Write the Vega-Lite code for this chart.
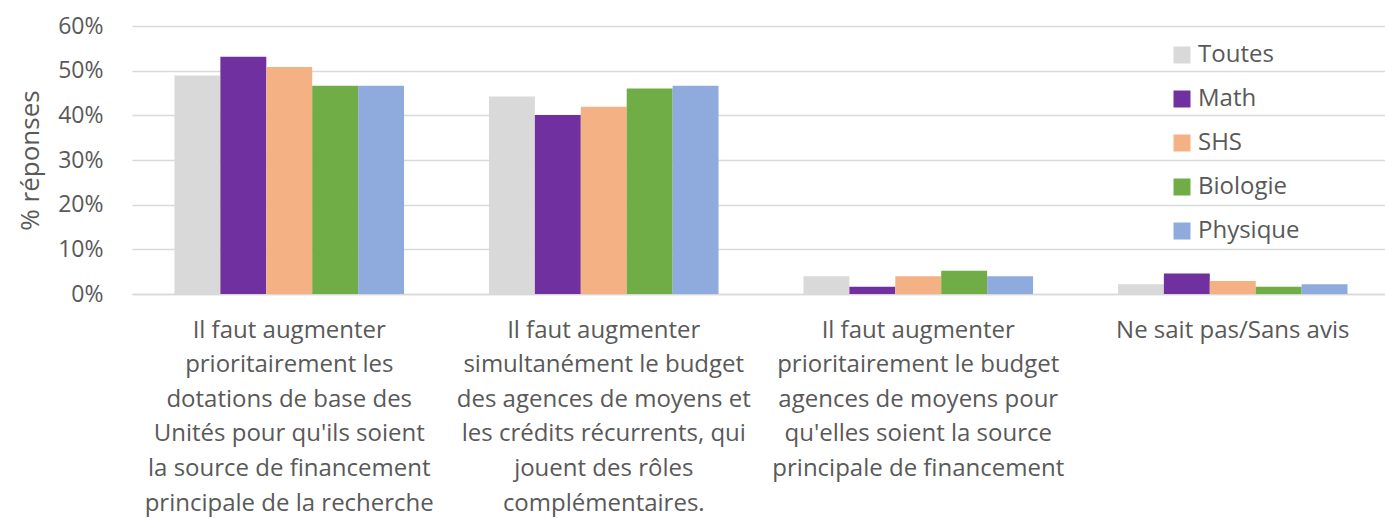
{
  "$schema": "https://vega.github.io/schema/vega-lite/v6.json",
  "autosize": {"type": "none"},
  "padding": {"left": 132, "top": 26, "right": 0, "bottom": 225},
  "width": 1258,
  "height": 268,
  "background": "white",
  "config": {
    "font": "Open Sans",
    "view": {"stroke": null},
    "axis": {"labelColor": "#595959", "titleColor": "#595959"}
  },
  "data": {
    "values": [
      {"q": "Il faut augmenter|prioritairement les|dotations de base des|Unités pour qu'ils soient|la source de financement|principale de la recherche", "o": 1, "groupe": "Toutes", "pct": 0.489},
      {"q": "Il faut augmenter|prioritairement les|dotations de base des|Unités pour qu'ils soient|la source de financement|principale de la recherche", "o": 1, "groupe": "Math", "pct": 0.531},
      {"q": "Il faut augmenter|prioritairement les|dotations de base des|Unités pour qu'ils soient|la source de financement|principale de la recherche", "o": 1, "groupe": "SHS", "pct": 0.508},
      {"q": "Il faut augmenter|prioritairement les|dotations de base des|Unités pour qu'ils soient|la source de financement|principale de la recherche", "o": 1, "groupe": "Biologie", "pct": 0.466},
      {"q": "Il faut augmenter|prioritairement les|dotations de base des|Unités pour qu'ils soient|la source de financement|principale de la recherche", "o": 1, "groupe": "Physique", "pct": 0.466},
      {"q": "Il faut augmenter|simultanément le budget|des agences de moyens et|les crédits récurrents, qui|jouent des rôles|complémentaires.", "o": 2, "groupe": "Toutes", "pct": 0.442},
      {"q": "Il faut augmenter|simultanément le budget|des agences de moyens et|les crédits récurrents, qui|jouent des rôles|complémentaires.", "o": 2, "groupe": "Math", "pct": 0.401},
      {"q": "Il faut augmenter|simultanément le budget|des agences de moyens et|les crédits récurrents, qui|jouent des rôles|complémentaires.", "o": 2, "groupe": "SHS", "pct": 0.419},
      {"q": "Il faut augmenter|simultanément le budget|des agences de moyens et|les crédits récurrents, qui|jouent des rôles|complémentaires.", "o": 2, "groupe": "Biologie", "pct": 0.460},
      {"q": "Il faut augmenter|simultanément le budget|des agences de moyens et|les crédits récurrents, qui|jouent des rôles|complémentaires.", "o": 2, "groupe": "Physique", "pct": 0.466},
      {"q": "Il faut augmenter|prioritairement le budget|agences de moyens pour|qu'elles soient la source|principale de financement", "o": 3, "groupe": "Toutes", "pct": 0.040},
      {"q": "Il faut augmenter|prioritairement le budget|agences de moyens pour|qu'elles soient la source|principale de financement", "o": 3, "groupe": "Math", "pct": 0.016},
      {"q": "Il faut augmenter|prioritairement le budget|agences de moyens pour|qu'elles soient la source|principale de financement", "o": 3, "groupe": "SHS", "pct": 0.040},
      {"q": "Il faut augmenter|prioritairement le budget|agences de moyens pour|qu'elles soient la source|principale de financement", "o": 3, "groupe": "Biologie", "pct": 0.052},
      {"q": "Il faut augmenter|prioritairement le budget|agences de moyens pour|qu'elles soient la source|principale de financement", "o": 3, "groupe": "Physique", "pct": 0.040},
      {"q": "Ne sait pas/Sans avis", "o": 4, "groupe": "Toutes", "pct": 0.022},
      {"q": "Ne sait pas/Sans avis", "o": 4, "groupe": "Math", "pct": 0.046},
      {"q": "Ne sait pas/Sans avis", "o": 4, "groupe": "SHS", "pct": 0.029},
      {"q": "Ne sait pas/Sans avis", "o": 4, "groupe": "Biologie", "pct": 0.016},
      {"q": "Ne sait pas/Sans avis", "o": 4, "groupe": "Physique", "pct": 0.022}
    ]
  },
  "mark": {"type": "bar"},
  "encoding": {
    "x": {
      "field": "q", "type": "nominal", "sort": {"field": "o"},
      "scale": {"paddingInner": 0.27, "paddingOuter": 0.135},
      "axis": {
        "title": null, "labelAngle": 0, "labelExpr": "split(datum.label, '|')",
        "labelFontSize": 24, "labelLineHeight": 34.6, "labelPadding": 24,
        "labelLimit": 0, "labelOverlap": false, "ticks": false,
        "domainColor": "#d9d9d9", "domainWidth": 1.5, "labelBaseline": "top"
      }
    },
    "xOffset": {"field": "groupe", "type": "nominal", "sort": ["Toutes", "Math", "SHS", "Biologie", "Physique"], "scale": {"paddingInner": 0, "paddingOuter": 0}},
    "y": {
      "field": "pct", "type": "quantitative",
      "scale": {"domain": [0, 0.6], "nice": false},
      "axis": {
        "title": "% réponses", "format": ".0%", "values": [0, 0.1, 0.2, 0.3, 0.4, 0.5, 0.6],
        "labelFontSize": 23, "titleFontSize": 26, "titleFontWeight": "normal",
        "labelOverlap": false, "ticks": false, "domain": false, "labelPadding": 29, "titlePadding": 14,
        "gridColor": "#d9d9d9", "gridWidth": 1.5
      }
    },
    "color": {
      "field": "groupe", "type": "nominal",
      "sort": ["Toutes", "Math", "SHS", "Biologie", "Physique"],
      "scale": {"domain": ["Toutes", "Math", "SHS", "Biologie", "Physique"], "range": ["#d9d9d9", "#7030a0", "#f4b183", "#70ad47", "#8faadc"]},
      "legend": {
        "title": null, "orient": "none", "legendX": 1038, "legendY": 17,
        "symbolType": "square", "symbolSize": 289, "symbolStrokeWidth": 0,
        "labelFontSize": 24, "labelColor": "#595959", "rowPadding": 20, "labelOffset": 4
      }
    }
  }
}
